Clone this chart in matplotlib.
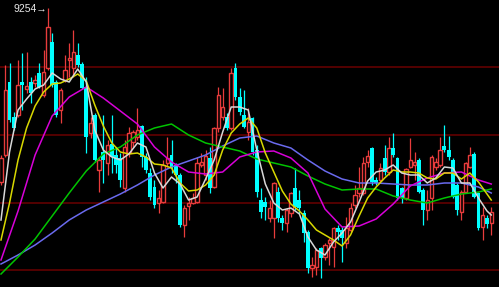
import matplotlib
matplotlib.use("Agg")
import matplotlib.pyplot as plt
import numpy as np

# ---- candle data (index 0..115) ----
opens = [7514,7784,8514,8164,8184,8514,8444,8514,8504,8604,
         8384,8654,8914,8514,8234,8534,8734,8654,8784,8694,
         8464,8004,8184,7634,7814,7704,7894,7784,7754,7454,
         7804,7914,7964,8074,7764,7604,7464,7304,7314,7704,
         7784,7684,7584,7084,7274,7304,7314,7684,7584,7754,
         7464,8054,8164,8164,8054,8654,8364,8184,8014,8154,
         7834,7334,7314,7154,7154,7414,7154,7104,7204,7454,
         7334,7204,7014,6654,6664,6854,6764,6904,6864,7054,
         7034,6904,7034,7284,7404,7404,7714,7854,7534,7534,
         7754,7614,7854,7754,7454,7354,7664,7684,7734,7434,
         7234,7354,7664,7684,7874,7834,7734,7484,7214,7414,
         7664,7794,7404,7064,7154,7104]
highs = [7784,8684,8704,8214,8734,8804,8814,8564,8584,8704,
         8834,9254,9004,8534,8454,8784,8904,9034,8904,8714,
         8564,8164,8204,7764,8184,7934,8184,7864,7804,7934,
         8064,8034,8254,8084,7804,7654,7534,7434,7734,7964,
         7934,7704,7604,7284,7364,7404,7764,7804,7834,7864,
         8064,8464,8454,8204,8654,8704,8454,8434,8254,8164,
         7884,7454,7364,7334,7514,7464,7184,7254,7414,7654,
         7434,7234,7034,6764,6854,6864,6904,6954,7064,7084,
         7064,7164,7304,7484,7664,7764,7834,7864,7564,7704,
         7884,7964,8004,7764,7464,7654,7954,7814,7754,7454,
         7434,7784,7754,7964,8084,7974,7754,7504,7434,7714,
         7864,7814,7414,7264,7184,7264]
lows = [7484,7764,8114,8034,8164,8234,8404,8304,8464,8454,
        8364,8634,8464,8164,8104,8514,8564,8564,8664,8444,
        7804,7954,7714,7414,7504,7584,7604,7604,7464,7414,
        7764,7864,7934,7664,7604,7334,7254,7204,7304,7664,
        7604,7504,7064,6964,7134,7294,7304,7664,7534,7404,
        7454,8014,8134,8034,8034,8334,8184,8054,7934,7784,
        7364,7154,7134,7114,6954,7114,7034,7014,7164,7234,
        7204,6914,6604,6564,6584,6554,6734,6684,6664,6934,
        6714,6854,7014,7254,7364,7384,7664,7484,7484,7514,
        7584,7584,7764,7334,7304,7334,7654,7534,7404,7084,
        7134,7234,7634,7664,7814,7734,7354,7184,7134,7404,
        7654,7354,7034,6934,7054,6984]
closes = [7754,8434,8134,8054,8484,8484,8474,8404,8534,8464,
          8614,9064,8484,8184,8434,8634,8754,8814,8684,8454,
          7964,8104,7734,7734,7734,7884,7764,7684,7534,7864,
          8004,8014,8034,7764,7634,7364,7284,7354,7684,7754,
          7664,7584,7084,7254,7304,7354,7704,7714,7774,7454,
          8054,8384,8264,8054,8604,8364,8214,8064,8114,7814,
          7414,7214,7264,7254,7504,7154,7104,7234,7404,7264,
          7254,7004,6654,6684,6834,6754,6884,6934,7054,7014,
          6954,7054,7254,7384,7454,7704,7774,7514,7504,7654,
          7614,7854,7784,7354,7354,7644,7734,7714,7414,7234,
          7334,7764,7714,7834,7834,7764,7364,7234,7414,7704,
          7784,7364,7054,7184,7094,7214]

# ---- moving average lines ----
ma_short_idx = list(range(0, 115, 2)) + [115]
ma5 = [7134,7814,8234,8344,8444,8484,8604,8544,8514,8644,
       8514,8034,7834,7764,7734,7794,7904,7864,7604,7454,
       7564,7494,7334,7364,7544,7734,8014,8264,8264,8234,
       7834,7494,7304,7234,7254,7194,6964,6834,6784,6914,
       7004,7114,7314,7524,7614,7634,7684,7604,7584,7584,
       7504,7554,7664,7654,7504,7504,7354,7224,7184]
ma10 = [6934,7304,7734,8054,8274,8414,8494,8504,8544,8594,
        8524,8284,8074,7904,7814,7794,7804,7764,7694,7684,
        7654,7504,7424,7434,7484,7584,7834,8004,8094,8154,
        8054,7804,7614,7424,7294,7224,7134,7034,6984,6934,
        6874,6984,7174,7354,7464,7554,7634,7614,7614,7604,
        7554,7544,7604,7604,7544,7604,7514,7394,7334]
ma_long_idx = list(range(0, 113, 4)) + [115]
ma20 = [6734,7224,7784,8174,8364,8464,8354,8224,8094,7864,
        7714,7614,7594,7614,7764,7814,7824,7754,7604,7244,
        7064,7074,7144,7294,7474,7554,7604,7614,7534,7494]
ma30 = [6594,6764,6944,7174,7404,7624,7794,7864,7984,8054,
        8094,7984,7904,7864,7824,7744,7704,7664,7574,7494,
        7434,7444,7444,7374,7334,7304,7354,7394,7414,7444]
ma60 = [6694,6784,6884,7004,7134,7234,7314,7394,7484,7584,
        7664,7724,7784,7874,7954,7974,7904,7854,7734,7624,
        7544,7504,7504,7494,7484,7484,7504,7504,7464,7404]

grid_levels = [8664, 7984, 7304, 6629]

RED = '#e83c3c'
CYAN = '#00ffff'

o = np.array(opens, float); h = np.array(highs, float)
l = np.array(lows, float); c = np.array(closes, float)
x = np.arange(len(o))
up = c >= o
dn = ~up

fig = plt.figure(figsize=(4.99, 2.87), dpi=100, facecolor='black')
ax = fig.add_axes([0, 0, 1, 1])
ax.set_facecolor('black')
ax.set_axis_off()

for g in grid_levels:
    ax.axhline(g, color='#5a0000', lw=1.3, zorder=0)

# wicks
ax.vlines(x[up], l[up], h[up], color=RED, lw=0.9, zorder=2)
ax.vlines(x[dn], l[dn], h[dn], color=CYAN, lw=0.9, zorder=2)
# bodies
w = 0.8
ax.bar(x[up], np.maximum(c[up] - o[up], 15), bottom=o[up], width=w,
       facecolor='black', edgecolor=RED, linewidth=1.0, zorder=3)
ax.bar(x[dn], np.maximum(o[dn] - c[dn], 15), bottom=c[dn], width=0.9,
       color=CYAN, linewidth=0, zorder=3)

# moving averages
ax.plot(ma_long_idx, ma60, color='#6a6aee', lw=1.1, zorder=4)
ax.plot(ma_long_idx, ma30, color='#00c400', lw=1.1, zorder=4)
ax.plot(ma_long_idx, ma20, color='#d800d8', lw=1.1, zorder=4)
ax.plot(ma_short_idx, ma10, color='#d8d800', lw=1.1, zorder=4)
ax.plot(ma_short_idx, ma5, color='#d8d8d8', lw=1.1, zorder=4)

# highest-point label
hi = int(np.argmax(h))
ax.text(hi - 0.25, h[hi] - 15, f'{int(h[hi])}\u2192', ha='right', va='center',
        color='#e8e8e8', fontsize=7.5,
        family=['Liberation Sans Narrow', 'Liberation Sans', 'DejaVu Sans'], zorder=5)

ax.set_xlim(-0.234, 116.82)
ax.set_ylim(6464, 9334)

fig.savefig('out.png', dpi=100, facecolor='black')
